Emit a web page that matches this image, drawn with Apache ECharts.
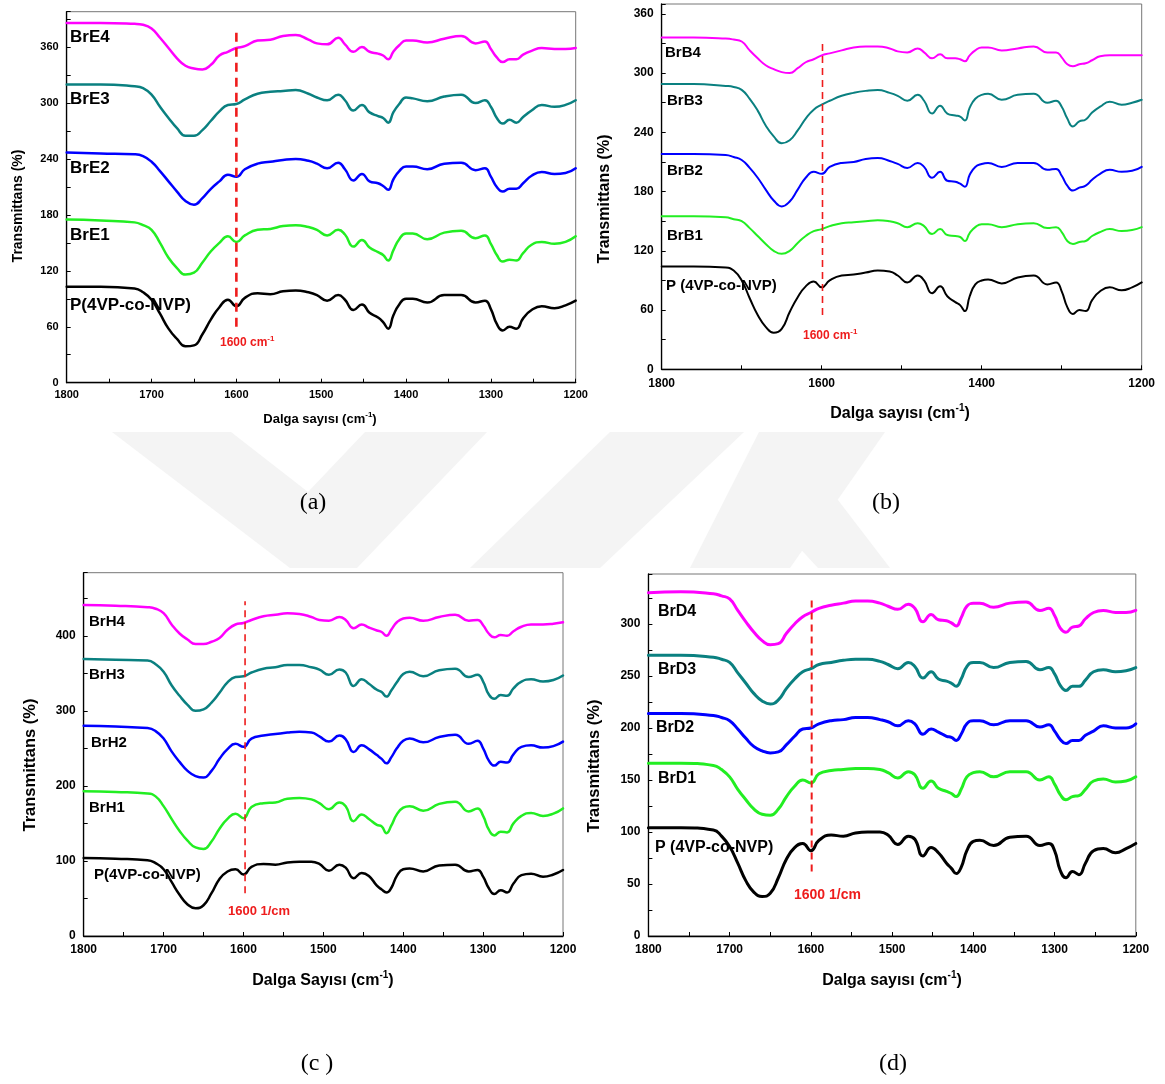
<!DOCTYPE html>
<html><head><meta charset="utf-8">
<script src="https://cdn.jsdelivr.net/npm/echarts@6/dist/echarts.min.js"></script>
<style>html,body{margin:0;padding:0;background:#fff}#c{width:1165px;height:1084px}</style>
</head><body><div id="c"></div><script>
// ---------- DATA ----------
const wavenumbers = [1800,1760,1720,1710,1700,1690,1680,1670,1660,1650,
 1640,1630,1620,1610,1600,1590,1575,1560,1545,1530,
 1515,1505,1493,1480,1472,1462,1452,1443,1433,1427,
 1421,1415,1408,1400,1392,1375,1355,1335,1318,1307,
 1300,1293,1286,1278,1270,1262,1252,1240,1225,1212,1200];

// panel (a)
const pA   = [103,103,101,97,89,74,58,47,39,40, 52,68,81,89,82,91,96,95,98,99, 97,94,88,94,89,78,84,75,70,65, 58,72,84,90,90,86,94,94,86,88, 79,63,56,60,58,69,78,82,80,83, 88];
const brE1 = [175,174,172,169,164,150,134,123,116,118, 129,141,150,157,151,158,164,165,168,169, 167,164,158,164,159,146,153,145,140,137, 131,142,154,160,160,154,161,163,155,158, 149,137,130,132,131,139,148,151,149,151, 157];
const brE2 = [247,246,245,243,237,227,216,205,195,191, 198,208,216,223,221,229,235,237,239,240, 238,235,230,236,229,217,224,216,214,211, 207,218,227,232,232,229,235,236,228,230, 221,210,205,208,208,214,222,226,224,225, 230];
const brE3 = [320,320,318,316,309,296,284,273,265,265, 271,281,291,298,299,304,310,312,313,314, 310,306,303,309,303,292,298,290,286,284, 279,290,299,306,305,302,307,309,300,303, 296,284,278,282,279,285,292,298,296,298, 303];
const brE4 = [386,386,385,384,380,370,359,348,340,337, 336,341,351,355,359,361,367,368,372,373, 368,364,363,370,363,355,360,355,353,351, 347,355,362,367,367,365,369,372,364,366, 358,349,344,347,347,352,356,359,358,358, 359];
// panel (b)
const pB   = [104,104,103,100,90,72,55,43,37,41, 58,73,84,89,83,90,95,96,98,100, 99,95,88,95,90,77,84,74,68,65, 59,74,86,90,91,87,93,95,86,88, 79,63,56,60,59,70,79,83,80,83, 88];
const brB1 = [155,155,154,152,150,143,135,127,120,117, 120,128,135,140,142,145,148,149,150,151, 150,148,144,148,145,137,142,136,135,134, 130,138,144,147,147,144,147,148,143,144, 139,130,127,129,130,135,139,142,140,141, 144];
const brB2 = [218,218,217,215,212,204,194,182,171,165, 170,182,194,200,198,205,209,210,213,214, 211,208,204,209,205,194,200,191,190,188, 185,197,205,208,209,205,209,209,202,203, 196,186,181,184,186,192,198,202,200,201, 205];
const brB3 = [289,289,287,286,283,274,262,247,236,229, 232,242,254,263,268,272,277,280,282,283, 280,277,272,278,272,259,267,259,257,256, 252,265,274,278,279,273,278,279,270,272, 266,254,246,251,253,260,266,271,268,270, 273];
const brB4 = [336,336,335,334,332,323,315,308,304,301, 300,305,311,314,318,320,323,326,327,327, 325,322,321,325,321,315,319,315,315,314, 312,318,323,326,326,323,325,327,321,321, 316,309,307,309,310,313,317,318,318,318, 318];
// panel (c)
const pC   = [104,103,101,97,89,72,55,42,37,41, 57,76,86,89,82,92,96,95,98,99, 99,96,87,95,91,77,84,80,67,62, 58,64,80,89,90,86,94,95,86,88, 79,64,56,61,58,70,81,83,79,82, 88];
const brH1 = [193,192,190,186,173,156,140,127,118,116, 126,143,156,163,157,172,177,178,183,184, 182,177,169,178,173,153,162,156,148,146, 137,147,162,171,173,167,176,179,166,170, 160,142,134,139,138,150,160,164,160,163, 170];
const brH2 = [280,279,277,273,263,246,232,220,213,211, 220,236,249,256,252,263,267,269,271,272, 271,266,259,267,262,245,254,249,241,236, 230,238,250,260,263,258,265,268,256,260, 250,234,227,232,231,242,252,254,251,253, 259];
const brH3 = [369,368,367,362,352,334,320,308,300,302, 311,324,338,345,346,351,356,358,361,361, 358,355,348,355,351,333,342,336,328,325, 319,327,338,349,352,346,354,356,345,348, 339,322,316,321,320,330,339,342,339,341, 347];
const brH4 = [441,440,438,436,430,415,403,395,389,389, 392,397,408,415,417,421,426,428,430,429, 425,421,420,425,421,410,415,411,407,405, 400,408,418,423,424,420,425,428,420,421, 414,403,398,401,400,406,412,415,415,416, 418];
// panel (d)
const pD   = [104,104,102,96,86,70,53,42,38,41, 56,74,85,89,82,92,97,96,99,100, 100,97,88,96,93,77,85,80,70,65, 60,66,82,91,92,87,95,96,87,89, 82,63,56,62,59,70,82,84,80,84, 89];
const brD1 = [166,166,164,160,153,141,131,122,117,116, 122,134,144,150,147,156,159,160,161,161, 160,157,152,158,155,142,149,142,139,137, 134,141,153,157,158,153,158,158,150,153, 146,136,131,134,135,141,149,151,148,149, 153];
const brD2 = [214,214,212,210,207,199,190,182,178,176, 177,184,192,199,200,204,207,208,210,210, 208,206,202,207,204,194,199,196,192,191, 188,194,204,207,207,203,207,207,201,203, 197,189,185,188,188,193,197,202,200,200, 204];
const brD3 = [270,270,268,266,263,253,243,233,226,223, 227,238,247,254,257,261,263,265,266,266, 264,261,257,263,259,248,254,247,245,243, 240,247,259,263,263,258,263,264,256,258, 252,241,236,240,240,246,254,256,254,255, 258];
const brD4 = [330,331,329,327,324,313,302,292,284,280, 281,291,300,307,311,315,318,320,322,322, 320,317,314,319,315,302,309,304,303,301, 298,306,317,320,320,316,320,321,313,315, 308,296,292,297,298,305,311,313,311,311, 313];

// reference (1600) line per panel
const guideX    = [1600, 1599, 1598, 1599];
const guideLow  = [60, 55, 57, 62];
const guideHigh = [381, 333, 446, 325];

const seriesNames = [
  ['P(4VP-co-NVP)','BrE1','BrE2','BrE3','BrE4'],
  ['P (4VP-co-NVP)','BrB1','BrB2','BrB3','BrB4'],
  ['P(4VP-co-NVP)','BrH1','BrH2','BrH3','BrH4'],
  ['P (4VP-co-NVP)','BrD1','BrD2','BrD3','BrD4']
];
const seriesData = [
  [pA, brE1, brE2, brE3, brE4],
  [pB, brB1, brB2, brB3, brB4],
  [pC, brH1, brH2, brH3, brH4],
  [pD, brD1, brD2, brD3, brD4]
];

// ---------- LAYOUT / STYLE ----------
const FONT = 'Arial, "Liberation Sans", sans-serif';
const colors = ['#000000', '#22ee22', '#0000ff', '#0a8080', '#ff00ff'];
const panels = [
  {grid:{left:66.7, top:11.7, width:509, height:371}, ymax:398, yInt:60, xInt:100, tick:11, margin:7, lw:2.5, dashW:2.6, dash:[9,6]},
  {grid:{left:661.7, top:4, width:480, height:365.3}, ymax:370, yInt:60, xInt:200, tick:12, margin:8, lw:2, dashW:1.6, dash:[7,5]},
  {grid:{left:83.7, top:572.7, width:479.3, height:363.3}, ymax:484, yInt:100, xInt:100, tick:12, margin:8, lw:2.5, dashW:1.6, dash:[7,5]},
  {grid:{left:648.4, top:574, width:487.4, height:362}, ymax:348, yInt:50, xInt:100, tick:12, margin:8, lw:3, dashW:2, dash:[7,5]}
];
const labelPos = [
  {font:17, items:[[70,305],[70,235],[70,168],[70,99],[70,37]]},
  {font:15, items:[[666,286],[667,236],[667,171],[667,101],[665,53]]},
  {font:15, items:[[94,875],[89,808],[91,743],[89,675],[89,622]]},
  {font:16, items:[[655,848],[658,779],[656,728],[658,670],[658,612]]}
];

const grids = [], xAxes = [], yAxes = [], series = [];
panels.forEach((p, i) => {
  grids.push(Object.assign({show:true, borderColor:'#777', borderWidth:1, backgroundColor:'transparent'}, p.grid));
  const common = {
    gridIndex:i, splitLine:{show:false},
    axisLine:{show:true, lineStyle:{color:'#000', width:1.3}},
    axisTick:{show:true, inside:true, length:4, lineStyle:{color:'#000', width:1}},
    minorTick:{show:true, splitNumber:2, length:4, lineStyle:{color:'#000', width:1}},
  };
  xAxes.push(Object.assign({}, common, {
    type:'value', min:1200, max:1800, interval:p.xInt, inverse:true,
    axisLabel:{fontFamily:FONT, fontWeight:'bold', fontSize:p.tick, color:'#000', margin:p.margin,
      formatter: v => String(Math.round(v))}
  }));
  yAxes.push(Object.assign({}, common, {
    type:'value', min:0, max:p.ymax, interval:p.yInt,
    axisLabel:{fontFamily:FONT, fontWeight:'bold', fontSize:p.tick, color:'#000', margin:8,
      formatter: v => (Math.abs(v % p.yInt) < 1e-6 ? String(Math.round(v)) : '')}
  }));
  seriesData[i].forEach((arr, k) => {
    series.push({
      type:'line', name:seriesNames[i][k], xAxisIndex:i, yAxisIndex:i,
      data: wavenumbers.map((w, j) => [w, arr[j]]),
      showSymbol:false, smooth:0.5,
      lineStyle:{color:colors[k], width:p.lw, join:'round', cap:'round'}, itemStyle:{color:colors[k]},
      z:3, silent:true, animation:false
    });
  });
  series.push({
    type:'line', xAxisIndex:i, yAxisIndex:i,
    data:[[guideX[i], guideLow[i]], [guideX[i], guideHigh[i]]],
    showSymbol:false, lineStyle:{color:'#ee1c1c', width:p.dashW, type:p.dash},
    z:4, silent:true, animation:false
  });
});

function txt(x, y, text, font, fill, extra) {
  return Object.assign({
    type:'text', x:x, y:y, z:1, silent:true,
    style:Object.assign({text:text, font:font, fill:fill, align:'left', verticalAlign:'middle',
      textAlign:'left', textVerticalAlign:'middle'}, (extra && extra.style) || {})
  }, extra ? {rotation: extra.rotation || 0} : {});
}
const graphics = [];
// watermark (faint logo in the gap)
const wm = '#f4f4f4';
[
  [[112,432],[231,432],[308,492],[365,432],[487,432],[357,568],[290,568]],
  [[610,432],[744,432],[600,568],[470,568]],
  [[759,432],[885,432],[790,568],[690,568]],
  [[760,505],[815,470],[890,568],[818,568]]
].forEach(pts => graphics.push({type:'polygon', z:0, silent:true, shape:{points:pts}, style:{fill:wm}}));

labelPos.forEach((lp, i) => {
  lp.items.forEach((pos, k) => {
    graphics.push(txt(pos[0], pos[1], seriesNames[i][k], 'bold ' + lp.font + 'px ' + FONT, '#000'));
  });
});
// red 1600 notes
const supRich = size => ({s:{fontSize:size, fontWeight:'bold', fontFamily:FONT, padding:[0,0,size+1,0]}});
graphics.push(txt(220, 343, '1600 cm{s|-1}', 'bold 12px ' + FONT, '#ee1c1c', {style:{rich:supRich(8)}}));
graphics.push(txt(803, 336, '1600 cm{s|-1}', 'bold 12px ' + FONT, '#ee1c1c', {style:{rich:supRich(8)}}));
graphics.push(txt(228, 911, '1600 1/cm', 'bold 13px ' + FONT, '#ee1c1c'));
graphics.push(txt(794, 895, '1600 1/cm', 'bold 14px ' + FONT, '#ee1c1c'));

// axis titles
const xTitles = [
  [320, 419, 'Dalga sayısı (cm{s|-1})', 13, 8],
  [900, 414, 'Dalga sayısı (cm{s|-1})', 16, 10],
  [323, 981, 'Dalga Sayısı (cm{s|-1})', 16, 10],
  [892, 981, 'Dalga sayısı (cm{s|-1})', 16, 10]
];
xTitles.forEach(t => graphics.push(txt(t[0], t[1], t[2], 'bold ' + t[3] + 'px ' + FONT, '#000',
  {style:{align:'center', textAlign:'center', rich:supRich(t[4])}})));
const yTitles = [[18, 206, 14], [605, 199, 16], [30, 765, 16.5], [594, 766, 16.5]];
yTitles.forEach(t => graphics.push(txt(t[0], t[1], 'Transmittans (%)', 'bold ' + t[2] + 'px ' + FONT, '#000',
  {rotation:Math.PI/2, style:{align:'center', textAlign:'center'}})));

// captions
[[313,503,'(a)'],[886,503,'(b)'],[317,1064,'(c )'],[893,1064,'(d)']].forEach(c =>
  graphics.push(txt(c[0], c[1], c[2], '24px "Liberation Serif", "Times New Roman", serif', '#000',
    {style:{align:'center', textAlign:'center'}})));

const chart = echarts.init(document.getElementById('c'), null, {renderer:'canvas'});
chart.setOption({
  animation:false,
  backgroundColor:'#ffffff',
  grid:grids, xAxis:xAxes, yAxis:yAxes, series:series,
  graphic:{elements:graphics}
});
</script></body></html>
